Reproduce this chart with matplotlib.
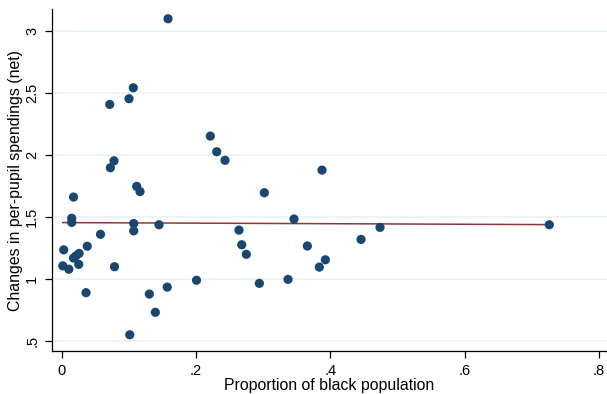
import numpy as np
import matplotlib
matplotlib.use("Agg")
import matplotlib.pyplot as plt

plt.rcParams['font.family'] = ['Liberation Sans', 'DejaVu Sans']

black_share = [0.1583, 0.1066, 0.1002, 0.0715, 0.0779, 0.0724, 0.1117, 0.1166,
               0.2213, 0.2308, 0.2432, 0.3876, 0.3017, 0.0176, 0.0149, 0.0149,
               0.1072, 0.1072, 0.1449, 0.0578, 0.0030, 0.0380, 0.0258, 0.0213,
               0.0176, 0.0016, 0.0106, 0.0253, 0.0362, 0.0786, 0.1013, 0.1305,
               0.1394, 0.1571, 0.2007, 0.3459, 0.2640, 0.2681, 0.2749, 0.3658,
               0.3926, 0.3836, 0.2943, 0.3370, 0.4740, 0.4457, 0.7261]
spending_change = [3.097, 2.541, 2.453, 2.407, 1.953, 1.897, 1.747, 1.705,
                   2.152, 2.026, 1.957, 1.878, 1.696, 1.661, 1.490, 1.457,
                   1.448, 1.389, 1.438, 1.361, 1.236, 1.265, 1.207, 1.188,
                   1.170, 1.107, 1.080, 1.119, 0.891, 1.100, 0.552, 0.880,
                   0.733, 0.936, 0.991, 1.484, 1.395, 1.277, 1.200, 1.267,
                   1.156, 1.097, 0.966, 0.998, 1.417, 1.320, 1.438]

x_ticks = [0, 0.2, 0.4, 0.6, 0.8]
x_ticklabels = ["0", ".2", ".4", ".6", ".8"]
y_ticks = [0.5, 1, 1.5, 2, 2.5, 3]
y_ticklabels = [".5", "1", "1.5", "2", "2.5", "3"]

x = np.array(black_share)
y = np.array(spending_change)
slope, intercept = np.polyfit(x, y, 1)
xf = np.array([x.min(), x.max()])
yf = intercept + slope * xf

fig = plt.figure(figsize=(6.07, 3.94), dpi=100)
ax = fig.add_axes([0.0852, 0.1084, 0.9148, 0.8686])

for t in y_ticks:
    ax.axhline(t, color='#eaf2f3', lw=1.2, zorder=0)

ax.scatter(x, y, s=44, color='#1a476f', edgecolors='none', zorder=3)
ax.plot(xf, yf, color='#90353b', lw=1.1, zorder=2)

ax.set_xlim(-0.0149, 0.812)
ax.set_ylim(0.419, 3.175)
ax.set_xticks(x_ticks)
ax.set_xticklabels(x_ticklabels)
ax.set_yticks(y_ticks)
ax.set_yticklabels(y_ticklabels, rotation=90, va='center')

for side in ['top', 'right']:
    ax.spines[side].set_visible(False)
for side in ['left', 'bottom']:
    ax.spines[side].set_linewidth(0.9)
    ax.spines[side].set_color('black')

ax.tick_params(axis='both', direction='out', length=5, width=0.9, labelsize=10.5, colors='black')
ax.tick_params(axis='x', pad=4)
ax.tick_params(axis='y', pad=4)
ax.set_xlabel("Proportion of black population", fontsize=11.4)
ax.set_ylabel("Changes in per-pupil spendings (net)", fontsize=11.4)
ax.xaxis.set_label_coords(0.5, -0.079)
ax.yaxis.set_label_coords(-0.052, 0.5)

fig.savefig("out.png", dpi=100, facecolor='white')
